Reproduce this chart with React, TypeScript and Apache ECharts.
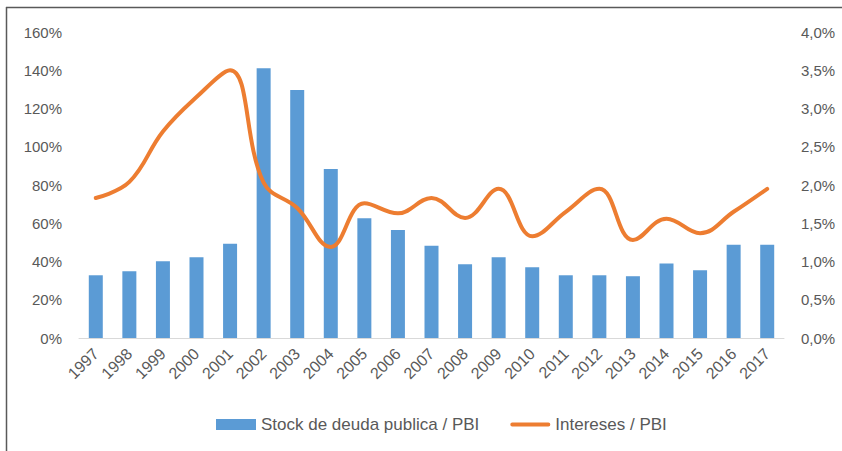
import React, { useEffect, useRef } from "react";
import * as echarts from "echarts";

const years = ["1997","1998","1999","2000","2001","2002","2003","2004","2005","2006","2007","2008","2009","2010","2011","2012","2013","2014","2015","2016","2017"];
const stockDeuda = [32.8, 34.9, 40.1, 42.2, 49.3, 141, 129.7, 88.4, 62.6, 56.5, 48.3, 38.5, 42.2, 37, 32.8, 32.8, 32.3, 39, 35.4, 48.8, 48.8];
const intereses = [1.83, 2.04, 2.70, 3.15, 3.50, 2.03, 1.70, 1.19, 1.76, 1.63, 1.83, 1.57, 1.95, 1.33, 1.65, 1.95, 1.28, 1.56, 1.37, 1.65, 1.95];

const FONT = "Liberation Sans";
const GREY = "#595959";

export default function App() {
  const ref = useRef<HTMLDivElement>(null);
  useEffect(() => {
    if (!ref.current) return;
    const chart = echarts.init(ref.current, null, { renderer: "svg" });
    chart.setOption({
      animation: false,
      backgroundColor: "#ffffff",
      textStyle: { fontFamily: FONT },
      grid: { left: 79, right: 58, top: 32, bottom: 113, containLabel: false },
      legend: {
        bottom: 13,
        left: 211,
        itemGap: 31,
        itemWidth: 40,
        itemHeight: 11,
        symbolKeepAspect: true,
        textStyle: { color: GREY, fontSize: 17, fontFamily: FONT },
        data: [
          { name: "Stock de deuda publica / PBI", icon: "rect" },
          { name: "Intereses / PBI", icon: "path://M2,0 L40,0 A2,2 0 0 1 40,4 L2,4 A2,2 0 0 1 2,0 Z" },
        ],
      },
      xAxis: {
        type: "category",
        data: years,
        boundaryGap: true,
        axisLine: { show: true, lineStyle: { color: "#D9D9D9", width: 1 } },
        axisTick: { show: false },
        axisLabel: { rotate: 45, margin: 13, color: GREY, fontSize: 16, fontFamily: FONT },
      },
      yAxis: [
        {
          type: "value",
          min: 0,
          max: 160,
          interval: 20,
          splitLine: { show: false },
          axisLine: { show: false },
          axisTick: { show: false },
          axisLabel: { formatter: "{value}%", color: GREY, fontSize: 15, margin: 17, fontFamily: FONT },
        },
        {
          type: "value",
          min: 0,
          max: 4,
          interval: 0.5,
          splitLine: { show: false },
          axisLine: { show: false },
          axisTick: { show: false },
          axisLabel: {
            formatter: (v: number) => v.toFixed(1).replace(".", ",") + "%",
            color: GREY,
            fontSize: 15,
            margin: 17,
            fontFamily: FONT,
          },
        },
      ],
      series: [
        {
          name: "Stock de deuda publica / PBI",
          type: "bar",
          data: stockDeuda,
          barWidth: 14,
          itemStyle: { color: "#5B9BD5" },
          yAxisIndex: 0,
        },
        {
          name: "Intereses / PBI",
          type: "line",
          data: intereses,
          yAxisIndex: 1,
          smooth: 0.4,
          symbol: "none",
          lineStyle: { color: "#ED7D31", width: 4, cap: "round" },
          itemStyle: { color: "#ED7D31" },
        },
      ],
      graphic: [
        { type: "line", shape: { x1: 6, y1: 7.5, x2: 842, y2: 7.5 }, style: { stroke: "#595959", lineWidth: 1.5 } },
        { type: "line", shape: { x1: 6.5, y1: 7, x2: 6.5, y2: 451 }, style: { stroke: "#595959", lineWidth: 1.5 } },
      ],
    });
    return () => chart.dispose();
  }, []);
  return (
    <div style={{ position: "fixed", left: 0, top: 0, width: 842, height: 451, background: "#fff" }}>
      <div ref={ref} style={{ width: 842, height: 451 }} />
    </div>
  );
}
